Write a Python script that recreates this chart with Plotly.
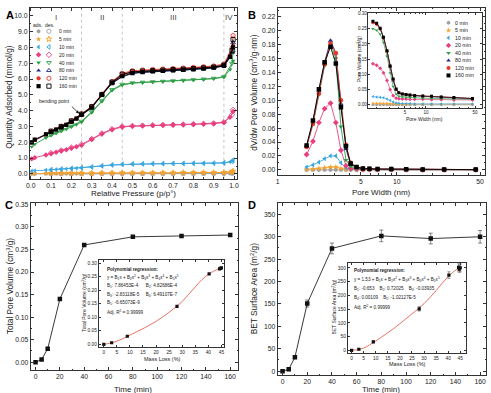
import plotly.graph_objects as go

W, H = 491, 393
FONT = "Arial, Liberation Sans, sans-serif"
TXT = "#1a1a1a"

# ---------------- series meta ----------------
series_names = ["0 min", "5 min", "10 min", "20 min", "40 min", "80 min", "120 min", "160 min"]
series_colors = ["#9e9e9e", "#f5a230", "#3aa6df", "#e8407f", "#2f9e46", "#1d2a8c", "#e5382a", "#000000"]
symbols_fill = ["hexagon", "star", "triangle-left", "diamond", "triangle-down", "triangle-up", "circle", "square"]
symbols_open = ["circle-open", "star-open", "triangle-left-open", "diamond-open", "triangle-down-open",
                "triangle-up-open", "circle-open", "square-open"]

# ---------------- Panel A: isotherms ----------------
a_p_ads = [0.005, 0.02, 0.075, 0.1, 0.125, 0.15, 0.175, 0.2, 0.225, 0.25, 0.3, 0.35, 0.4, 0.45,
           0.5, 0.55, 0.6, 0.65, 0.7, 0.75, 0.8, 0.85, 0.9, 0.95, 0.98, 0.995]
a_p_des = [0.995, 0.99, 0.95, 0.9, 0.85, 0.8, 0.75, 0.7, 0.65, 0.6, 0.55, 0.5, 0.45, 0.4, 0.35,
           0.3, 0.25, 0.2, 0.15, 0.1]

ads_0 = [0.0, 0.0, 0.01, 0.01, 0.01, 0.01, 0.01, 0.01, 0.01, 0.01, 0.01, 0.01, 0.01, 0.01,
         0.01, 0.01, 0.01, 0.01, 0.01, 0.01, 0.01, 0.01, 0.01, 0.02, 0.03, 0.05]
des_0 = [0.06, 0.04, 0.02, 0.02, 0.02, 0.01, 0.01, 0.01, 0.01, 0.01, 0.01, 0.01, 0.01, 0.01, 0.01,
         0.01, 0.01, 0.01, 0.01, 0.01]
ads_5 = [0.02, 0.03, 0.04, 0.04, 0.04, 0.05, 0.05, 0.05, 0.05, 0.05, 0.05, 0.06, 0.06, 0.07,
         0.07, 0.07, 0.07, 0.07, 0.07, 0.08, 0.08, 0.08, 0.08, 0.09, 0.12, 0.15]
des_5 = [0.17, 0.13, 0.09, 0.08, 0.08, 0.08, 0.08, 0.07, 0.07, 0.07, 0.07, 0.07, 0.07, 0.06, 0.06,
         0.05, 0.05, 0.05, 0.05, 0.04]
ads_10 = [0.19, 0.21, 0.24, 0.26, 0.28, 0.30, 0.32, 0.34, 0.36, 0.38, 0.43, 0.50, 0.56, 0.60,
          0.62, 0.63, 0.64, 0.64, 0.65, 0.65, 0.66, 0.66, 0.67, 0.69, 0.76, 0.84]
des_10 = [0.87, 0.80, 0.70, 0.68, 0.67, 0.67, 0.66, 0.66, 0.65, 0.65, 0.64, 0.63, 0.61, 0.57, 0.51,
          0.44, 0.39, 0.35, 0.31, 0.27]
ads_20 = [0.95, 1.03, 1.20, 1.28, 1.37, 1.45, 1.53, 1.62, 1.72, 1.82, 2.18, 2.53, 2.80, 2.97,
          3.02, 3.04, 3.06, 3.08, 3.09, 3.11, 3.13, 3.15, 3.18, 3.25, 3.58, 3.95]
des_20 = [4.05, 3.75, 3.27, 3.20, 3.17, 3.15, 3.13, 3.11, 3.10, 3.08, 3.06, 3.04, 3.00, 2.84, 2.56,
          2.21, 1.86, 1.67, 1.49, 1.32]
ads_40 = [1.72, 1.88, 2.28, 2.43, 2.57, 2.70, 2.83, 2.97, 3.12, 3.28, 3.88, 4.58, 5.28, 5.62,
          5.74, 5.78, 5.81, 5.84, 5.87, 5.90, 5.93, 5.97, 6.02, 6.12, 6.60, 7.15]
des_40 = [7.70, 7.00, 6.15, 6.05, 6.00, 5.96, 5.92, 5.89, 5.86, 5.83, 5.80, 5.76, 5.67, 5.33, 4.63,
          3.93, 3.33, 3.02, 2.75, 2.47]
ads_80 = [1.95, 2.12, 2.48, 2.63, 2.78, 2.93, 3.08, 3.27, 3.47, 3.72, 4.18, 4.98, 5.72, 6.15,
          6.35, 6.42, 6.47, 6.50, 6.53, 6.56, 6.60, 6.64, 6.70, 6.83, 7.35, 7.95]
des_80 = [8.30, 7.70, 6.86, 6.74, 6.69, 6.65, 6.61, 6.58, 6.55, 6.52, 6.49, 6.44, 6.27, 5.78, 5.00,
          4.22, 3.76, 3.33, 2.97, 2.67]
ads_120 = [1.98, 2.16, 2.52, 2.67, 2.82, 2.97, 3.12, 3.31, 3.51, 3.76, 4.22, 5.02, 5.80, 6.25,
           6.45, 6.52, 6.56, 6.59, 6.62, 6.65, 6.69, 6.73, 6.79, 6.92, 7.50, 8.10]
des_120 = [8.75, 7.95, 6.95, 6.83, 6.78, 6.74, 6.70, 6.67, 6.64, 6.61, 6.58, 6.53, 6.36, 5.85, 5.05,
           4.27, 3.80, 3.37, 3.01, 2.71]
ads_160 = [2.00, 2.17, 2.50, 2.65, 2.80, 2.95, 3.10, 3.30, 3.50, 3.75, 4.20, 5.00, 5.75, 6.18,
           6.38, 6.44, 6.49, 6.52, 6.55, 6.58, 6.62, 6.66, 6.72, 6.85, 7.40, 8.00]
des_160 = [8.50, 7.80, 6.88, 6.76, 6.71, 6.67, 6.63, 6.60, 6.57, 6.54, 6.51, 6.46, 6.30, 5.80, 5.02,
           4.25, 3.78, 3.35, 3.00, 2.70]

a_ads = [ads_0, ads_5, ads_10, ads_20, ads_40, ads_80, ads_120, ads_160]
a_des = [des_0, des_5, des_10, des_20, des_40, des_80, des_120, des_160]

region_labels = ["I", "II", "III", "IV"]
region_label_x = [0.125, 0.35, 0.70, 0.975]
region_bounds = [0.25, 0.45, 0.95]

# ---------------- Panel B: pore size distribution ----------------
b_width = [1.75, 1.98, 2.22, 2.48, 2.78, 3.08, 3.4, 3.75, 4.1, 4.6, 5.2, 5.9, 6.9, 9.0, 12.0, 16.5, 25.0, 46.0]

psd_0 = [0.0] * 18
psd_5 = [0.0005, 0.001, 0.002, 0.003, 0.004, 0.004, 0.002, 0.001, 0.0005, 0.0002, 0.0, 0.0, 0.0, 0.0, 0.0, 0.0, 0.0, 0.0]
psd_10 = [0.004, 0.007, 0.011, 0.016, 0.020, 0.020, 0.010, 0.003, 0.001, 0.0005, 0.0003, 0.0002, 0.0001, 0.0, 0.0, 0.0, 0.0, 0.0]
psd_20 = [0.022, 0.041, 0.068, 0.088, 0.096, 0.068, 0.028, 0.006, 0.002, 0.001, 0.0005, 0.0004, 0.0003, 0.0002, 0.0002, 0.0001, 0.0001, 0.0001]
psd_40 = [0.033, 0.066, 0.108, 0.150, 0.183, 0.160, 0.062, 0.014, 0.005, 0.002, 0.001, 0.001, 0.0008, 0.0006, 0.0005, 0.0004, 0.0003, 0.0002]
psd_80 = [0.034, 0.070, 0.114, 0.155, 0.186, 0.168, 0.095, 0.030, 0.008, 0.003, 0.002, 0.0015, 0.001, 0.001, 0.0008, 0.0006, 0.0005, 0.0003]
psd_120 = [0.033, 0.066, 0.110, 0.152, 0.182, 0.168, 0.100, 0.036, 0.010, 0.004, 0.002, 0.0015, 0.001, 0.001, 0.0008, 0.0006, 0.0005, 0.0003]
psd_160 = [0.035, 0.071, 0.116, 0.155, 0.177, 0.153, 0.090, 0.034, 0.009, 0.004, 0.002, 0.0015, 0.001, 0.001, 0.0008, 0.0006, 0.0005, 0.0003]
b_psd = [psd_0, psd_5, psd_10, psd_20, psd_40, psd_80, psd_120, psd_160]

cum_0 = [0.0] * 18
cum_5 = [0.005, 0.005, 0.005, 0.005, 0.005, 0.004, 0.004, 0.003, 0.003, 0.002, 0.002, 0.002, 0.002, 0.002, 0.002, 0.002, 0.002, 0.002]
cum_10 = [0.027, 0.026, 0.025, 0.023, 0.019, 0.014, 0.009, 0.006, 0.005, 0.004, 0.004, 0.004, 0.003, 0.003, 0.003, 0.003, 0.003, 0.003]
cum_20 = [0.135, 0.130, 0.120, 0.105, 0.080, 0.050, 0.030, 0.022, 0.020, 0.019, 0.019, 0.018, 0.018, 0.018, 0.017, 0.017, 0.016, 0.016]
cum_40 = [0.250, 0.245, 0.232, 0.205, 0.160, 0.105, 0.060, 0.035, 0.028, 0.026, 0.025, 0.024, 0.023, 0.022, 0.021, 0.020, 0.019, 0.018]
cum_80 = [0.272, 0.266, 0.251, 0.222, 0.176, 0.124, 0.079, 0.049, 0.039, 0.035, 0.033, 0.031, 0.030, 0.028, 0.027, 0.025, 0.023, 0.020]
cum_120 = [0.270, 0.264, 0.249, 0.220, 0.176, 0.127, 0.083, 0.051, 0.040, 0.036, 0.034, 0.032, 0.031, 0.029, 0.028, 0.026, 0.024, 0.021]
cum_160 = [0.275, 0.268, 0.252, 0.222, 0.178, 0.128, 0.085, 0.052, 0.040, 0.036, 0.034, 0.032, 0.031, 0.029, 0.028, 0.026, 0.024, 0.021]
b_cum = [cum_0, cum_5, cum_10, cum_20, cum_40, cum_80, cum_120, cum_160]

# ---------------- Panels C & D ----------------
time_min = [0, 5, 10, 20, 40, 80, 120, 160]
mass_loss = [0.0, 3.0, 9.0, 28.0, 40.3, 44.3, 44.6, 45.0]
total_pore_volume = [0.0, 0.006, 0.030, 0.140, 0.260, 0.278, 0.280, 0.282]
bet_area = [0, 4, 31, 151, 274, 302, 296, 300]
bet_err = [2, 3, 3, 8, 12, 13, 12, 14]

fit_x = [0, 2.5, 5, 7.5, 10, 12.5, 15, 17.5, 20, 22.5, 25, 27.5, 30, 32.5, 35, 37.5, 40, 42.5, 45]
fit_tpv = [0.0, 0.005, 0.012, 0.022, 0.034, 0.046, 0.058, 0.071, 0.085, 0.101, 0.118, 0.137,
           0.158, 0.185, 0.212, 0.238, 0.258, 0.272, 0.283]
fit_bet = [1.5, 2.0, 8, 20, 34, 49, 64, 80, 97, 115, 133, 150, 170, 193, 218, 244, 268, 288, 303]

c_fit_text = ["<b>Polynomial regression:</b>",
              "y = B<sub>1</sub>x + B<sub>2</sub>x<sup>2</sup> + B<sub>3</sub>x<sup>3</sup> + B<sub>4</sub>x<sup>4</sup> + B<sub>5</sub>x<sup>5</sup>",
              "B<sub>1</sub>: 7.86453E-4      B<sub>2</sub>: 4.82686E-4",
              "B<sub>3</sub>: -2.83118E-5     B<sub>4</sub>: 6.49107E-7",
              "B<sub>5</sub>: -6.65073E-9",
              "Adj. R<sup>2</sup> = 0.99999"]
d_fit_text = ["<b>Polynomial regression:</b>",
              "y = 1.53 + B<sub>1</sub>x + B<sub>2</sub>x<sup>2</sup> + B<sub>3</sub>x<sup>3</sup> + B<sub>4</sub>x<sup>4</sup> + B<sub>5</sub>x<sup>5</sup>",
              "B<sub>1</sub>: -0.653    B<sub>2</sub>: 0.72025    B<sub>3</sub>: -0.03935",
              "B<sub>4</sub>: 0.00109    B<sub>5</sub>: -1.02127E-5",
              "Adj. R<sup>2</sup> = 0.99999"]


# ---------------- helpers (layout only) ----------------
def fx(px):
    return px / W


def fy(py):
    return 1 - py / H


def axis(domain, rng, anchor, size=6.8, ticklen=3, **kw):
    d = dict(domain=domain, range=rng, anchor=anchor, showline=True, linecolor="#333", linewidth=0.8,
             mirror="allticks", ticks="inside", ticklen=ticklen, tickwidth=0.7, tickcolor="#333",
             tickfont=dict(size=size, family=FONT, color=TXT), showgrid=False, zeroline=False,
             fixedrange=True)
    d.update(kw)
    return d


def minor(dt=None, vals=None, ln=1.5):
    m = dict(ticklen=ln, tickcolor="#333", ticks="inside", tickwidth=0.6)
    if dt is not None:
        m["dtick"] = dt
    if vals is not None:
        m["tickvals"] = vals
    return m


fig = go.Figure()

# ---------- Panel A traces ----------
for i in range(8):
    fig.add_trace(go.Scatter(x=a_p_ads, y=a_ads[i], mode="lines+markers", xaxis="x", yaxis="y",
                             line=dict(color=series_colors[i], width=0.9),
                             marker=dict(symbol=symbols_fill[i], size=4.2, color=series_colors[i],
                                         line=dict(width=0)), showlegend=False))
    fig.add_trace(go.Scatter(x=a_p_des, y=a_des[i], mode="lines+markers", xaxis="x", yaxis="y",
                             line=dict(color=series_colors[i], width=0.9),
                             marker=dict(symbol=symbols_open[i], size=4.2, color=series_colors[i],
                                         line=dict(width=0.9)), showlegend=False))

# ---------- Panel B main ----------
for i in range(8):
    fig.add_trace(go.Scatter(x=b_width, y=b_psd[i], mode="lines+markers", xaxis="x2", yaxis="y2",
                             line=dict(color=series_colors[i], width=0.9),
                             marker=dict(symbol=symbols_fill[i], size=4.5, color=series_colors[i]),
                             showlegend=False))
# ---------- Panel B inset ----------
for i in range(8):
    fig.add_trace(go.Scatter(x=b_width, y=b_cum[i], mode="lines+markers", xaxis="x3", yaxis="y3",
                             line=dict(color=series_colors[i], width=0.7),
                             marker=dict(symbol=symbols_fill[i], size=3, color=series_colors[i]),
                             showlegend=False))

# ---------- Panel C ----------
fig.add_trace(go.Scatter(x=time_min, y=total_pore_volume, mode="lines+markers", xaxis="x4", yaxis="y4",
                         line=dict(color="#222", width=0.9),
                         marker=dict(symbol="square", size=4.5, color="#111"), showlegend=False))
fig.add_trace(go.Scatter(x=fit_x, y=fit_tpv, mode="lines", xaxis="x5", yaxis="y5", line_shape="spline",
                         line=dict(color="#e0503c", width=0.8), showlegend=False))
fig.add_trace(go.Scatter(x=mass_loss, y=total_pore_volume, mode="markers", xaxis="x5", yaxis="y5",
                         marker=dict(symbol="square", size=3.2, color="#111"), showlegend=False))

# ---------- Panel D ----------
fig.add_trace(go.Scatter(x=time_min, y=bet_area, mode="lines+markers", xaxis="x6", yaxis="y6",
                         line=dict(color="#222", width=0.9),
                         error_y=dict(type="data", array=bet_err, color="#555", thickness=0.7, width=2),
                         marker=dict(symbol="square", size=4.5, color="#111"), showlegend=False))
fig.add_trace(go.Scatter(x=fit_x, y=fit_bet, mode="lines", xaxis="x7", yaxis="y7", line_shape="spline",
                         line=dict(color="#e0503c", width=0.8), showlegend=False))
fig.add_trace(go.Scatter(x=mass_loss, y=bet_area, mode="markers", xaxis="x7", yaxis="y7",
                         error_y=dict(type="data", array=bet_err, color="#555", thickness=0.6, width=1.5),
                         marker=dict(symbol="square", size=3.2, color="#111"), showlegend=False))

# ---------- custom legends on a pixel overlay axis ----------
legA_rows = [28.5 + 7.9 * i for i in range(8)]
legB_rows = [20.0 + 7.57 * i for i in range(8)]
for i in range(8):
    fig.add_trace(go.Scatter(x=[35], y=[legA_rows[i]], mode="markers", xaxis="x8", yaxis="y8",
                             marker=dict(symbol=symbols_fill[i], size=4.2, color=series_colors[i]),
                             showlegend=False, hoverinfo="skip"))
    fig.add_trace(go.Scatter(x=[45.5], y=[legA_rows[i]], mode="markers", xaxis="x8", yaxis="y8",
                             marker=dict(symbol=symbols_open[i], size=4.2, color=series_colors[i],
                                         line=dict(width=0.9)),
                             showlegend=False, hoverinfo="skip"))
    fig.add_trace(go.Scatter(x=[450], y=[legB_rows[i]], mode="markers", xaxis="x8", yaxis="y8",
                             marker=dict(symbol=symbols_fill[i], size=4, color=series_colors[i]),
                             showlegend=False, hoverinfo="skip"))

ann = []
# legend texts
ann.append(dict(text="ads.", x=fx(33.5), y=fy(22.5), xref="paper", yref="paper", showarrow=False,
                font=dict(size=5, family=FONT, color=TXT), xanchor="center", yanchor="middle"))
ann.append(dict(text="des.", x=fx(46), y=fy(22.5), xref="paper", yref="paper", showarrow=False,
                font=dict(size=5, family=FONT, color=TXT), xanchor="center", yanchor="middle"))
for i in range(8):
    ann.append(dict(text=series_names[i], x=fx(53.5), y=fy(legA_rows[i]), xref="paper", yref="paper",
                    showarrow=False, font=dict(size=5, family=FONT, color=TXT), xanchor="left",
                    yanchor="middle"))
    ann.append(dict(text=series_names[i], x=fx(454.5), y=fy(legB_rows[i]), xref="paper", yref="paper",
                    showarrow=False, font=dict(size=5.3, family=FONT, color=TXT), xanchor="left",
                    yanchor="middle"))

# panel letters
for letter, (px, py) in zip("ABCD", [(6, 12), (251, 12), (5, 204), (251, 204)]):
    ann.append(dict(text="<b>%s</b>" % letter, x=fx(px), y=fy(py), xref="paper", yref="paper",
                    showarrow=False, font=dict(size=11, family=FONT, color="#000"),
                    xanchor="center", yanchor="middle"))


# axis titles
def title(text, px, py, rot=0, size=8.3):
    ann.append(dict(text=text, x=fx(px), y=fy(py), xref="paper", yref="paper", showarrow=False,
                    textangle=rot, font=dict(size=size, family=FONT, color=TXT),
                    xanchor="center", yanchor="middle"))


title("Quantity Adsorbed (mmol/g)", 5.5, 94, -90)
title("Relative Pressure (p/p°)", 131, 191.8, 0, 8)
title("dV/dw Pore Volume (cm<sup>3</sup>/g·nm)", 252.5, 90, -90)
title("Pore Width (nm)", 382, 191, 0, 8)
title("Pore Volume (cm<sup>3</sup>/g)", 359, 57, -90, 5)
title("Pore Width (nm)", 426, 117, 0, 5)
title("Total Pore Volume (cm<sup>3</sup>/g)", 5.5, 285, -90)
title("Time (min)", 131, 389, 0, 8)
title("Total Pore Volume (cm<sup>3</sup>/g)", 81, 302, -90, 5)
title("Mass Loss (%)", 160, 359, 0, 5.5)
title("BET Surface Area (m<sup>2</sup>/g)", 252.5, 288, -90)
title("Time (min)", 382, 389, 0, 8)
title("BET Surface Area (m<sup>2</sup>/g)", 334, 306, -90, 5)
title("Mass Loss (%)", 408, 363.5, 0, 5.5)

# region labels and bending point (panel A)
for lab, xv in zip(region_labels, region_label_x):
    ann.append(dict(text=lab, x=xv, y=9.9, xref="x", yref="y", showarrow=False,
                    font=dict(size=8, family=FONT, color="#444"), xanchor="center", yanchor="middle"))
ann.append(dict(text="bending point", x=0.115, y=4.6, xref="x", yref="y", showarrow=False,
                font=dict(size=5, family=FONT, color=TXT), xanchor="center", yanchor="middle"))
ann.append(dict(text="", x=0.238, y=3.82, xref="x", yref="y", ax=0.195, ay=4.35, axref="x", ayref="y",
                showarrow=True, arrowhead=2, arrowsize=0.8, arrowwidth=0.8, arrowcolor="#111"))

# regression texts
c_rows = [269, 277, 285.5, 294, 302.5, 311]
for t, py in zip(c_fit_text, c_rows):
    ann.append(dict(text=t, x=fx(102), y=fy(py), xref="paper", yref="paper", showarrow=False,
                    font=dict(size=4.6, family=FONT, color=TXT), xanchor="left", yanchor="middle"))
d_rows = [270, 279, 288, 297, 306]
for t, py in zip(d_fit_text, d_rows):
    ann.append(dict(text=t, x=fx(352), y=fy(py), xref="paper", yref="paper", showarrow=False,
                    font=dict(size=4.6, family=FONT, color=TXT), xanchor="left", yanchor="middle"))

shapes = []
for xb in region_bounds:
    shapes.append(dict(type="line", xref="x", yref="y", x0=xb, x1=xb, y0=-0.3, y1=10.5,
                       line=dict(color="#b8b8b8", width=0.8, dash="dot"), layer="below"))

log_minor = [2, 3, 4, 6, 7, 8, 9, 20, 30, 40]

fig.update_layout(
    width=W, height=H, margin=dict(l=0, r=0, t=0, b=0),
    paper_bgcolor="white", plot_bgcolor="rgba(0,0,0,0)", showlegend=False,
    font=dict(family=FONT, color=TXT),
    annotations=ann, shapes=shapes,
    # Panel A
    xaxis=axis([fx(26), fx(236)], [-0.005, 1.015], "y", dtick=0.1, tickformat=".1f", tick0=0,
               minor=minor(dt=0.05)),
    yaxis=axis([fy(177), fy(5)], [-0.3, 10.5], "x", dtick=1, tickformat=".1f", tick0=0,
               minor=minor(dt=0.5)),
    # Panel B main
    xaxis2=axis([fx(277), fx(487)], [0, 1.741], "y2", type="log", tickmode="array",
                tickvals=[1, 5, 10, 50], ticktext=["1", "5", "10", "50"],
                minor=minor(vals=log_minor)),
    yaxis2=axis([fy(173), fy(5)], [-0.007, 0.233], "x2", dtick=0.02, tickformat=".2f", tick0=0,
                minor=minor(dt=0.01)),
    # Panel B inset
    xaxis3=axis([fx(369), fx(484)], [0.18, 1.8], "y3", size=4.5, ticklen=2, type="log", tickmode="array",
                tickvals=[5, 10, 50], ticktext=["5", "10", "50"],
                minor=minor(vals=log_minor, ln=1)),
    yaxis3=axis([fy(106), fy(10)], [-0.011, 0.302], "x3", size=4.5, ticklen=2, dtick=0.05,
                tickformat=".2f", tick0=0),
    # Panel C main
    xaxis4=axis([fx(27), fx(237)], [-4, 166.5], "y4", dtick=20, tick0=0, minor=minor(dt=10)),
    yaxis4=axis([fy(370), fy(202)], [-0.0176, 0.352], "x4", dtick=0.05, tickformat=".2f", tick0=0,
                minor=minor(dt=0.025)),
    # Panel C inset
    xaxis5=axis([fx(96), fx(223)], [-1.9, 46.1], "y5", size=4.8, ticklen=2, dtick=5, tick0=0),
    yaxis5=axis([fy(347), fy(259)], [-0.011, 0.311], "x5", size=4.8, ticklen=2, dtick=0.05,
                tickformat=".2f", tick0=0),
    # Panel D main
    xaxis6=axis([fx(277), fx(488)], [-4, 164.8], "y6", dtick=20, tick0=0, minor=minor(dt=10)),
    yaxis6=axis([fy(375), fy(202)], [-8.9, 374.4], "x6", dtick=50, tick0=0, minor=minor(dt=25)),
    # Panel D inset
    xaxis7=axis([fx(348), fx(468)], [-1.6, 47.5], "y7", size=4.8, ticklen=2, dtick=5, tick0=0),
    yaxis7=axis([fy(353), fy(262)], [-10.8, 318], "x7", size=4.8, ticklen=2, dtick=50, tick0=0),
    # pixel overlay for legends
    xaxis8=dict(domain=[0, 1], range=[0, W], anchor="y8", visible=False, fixedrange=True),
    yaxis8=dict(domain=[0, 1], range=[H, 0], anchor="x8", visible=False, fixedrange=True),
)

fig.write_html("out.html")
